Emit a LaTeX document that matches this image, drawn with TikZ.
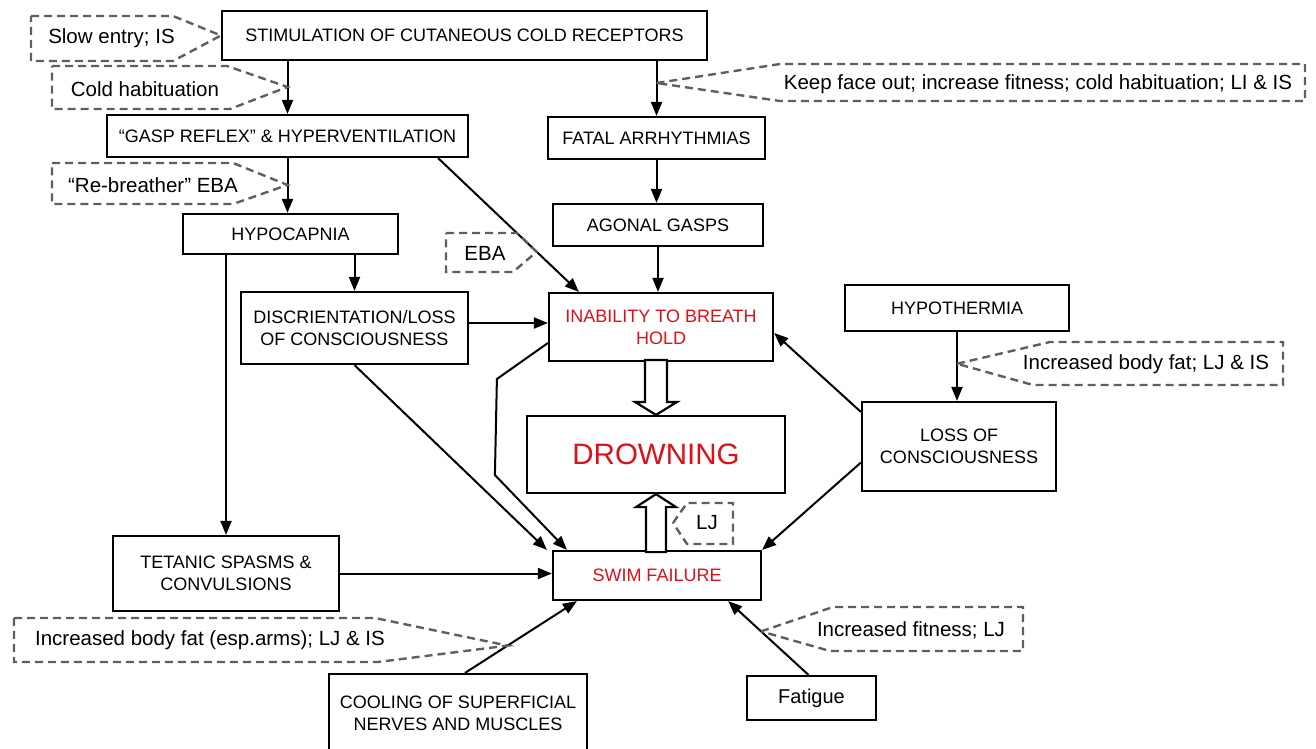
\documentclass[tikz,border=0pt]{standalone}
\usepackage{fontspec}
\setmainfont{Liberation Sans}
\usetikzlibrary{arrows.meta}
\definecolor{alertred}{RGB}{220,16,24}
\definecolor{notegray}{RGB}{95,95,95}
\tikzstyle{process} = [rectangle, draw=black, line width=2.2pt, align=center, inner sep=0pt, font=\fontsize{18}{22}\selectfont]
\tikzstyle{alert} = [process, text=alertred]
\tikzstyle{note} = [align=center, inner sep=0pt, font=\fontsize{20.5}{24}\selectfont]
\tikzstyle{hint} = [draw=notegray, line width=2.4pt, dash pattern=on 8pt off 5pt]
\tikzstyle{arrow} = [line width=2pt, -{Triangle[length=14pt,width=11pt]}]
\tikzstyle{hollow} = [draw=black, line width=2.2pt, fill=white]
\begin{document}
\begin{tikzpicture}[x=1pt, y=-1pt]
\useasboundingbox (0,0) rectangle (1316,748);
% boxes
\node (stim) [process, minimum width=485pt, minimum height=49pt] at (464.5,35.5) {STIMULATION OF CUTANEOUS COLD RECEPTORS};
\node (gasp) [process, minimum width=361pt, minimum height=42pt] at (287.5,136) {“GASP REFLEX” \& HYPERVENTILATION};
\node (fatal) [process, minimum width=217pt, minimum height=42pt] at (656.5,138) {FATAL ARRHYTHMIAS};
\node (hypo) [process, minimum width=215pt, minimum height=40pt] at (290.5,234) {HYPOCAPNIA};
\node (agonal) [process, minimum width=210pt, minimum height=42pt] at (658,225) {AGONAL GASPS};
\node (disc) [process, minimum width=227pt, minimum height=72pt] at (354.5,328) {DISCRIENTATION/LOSS\\OF CONSCIOUSNESS};
\node (inab) [alert, minimum width=224pt, minimum height=68pt] at (661,327) {INABILITY TO BREATH\\HOLD};
\node (hypoth) [process, minimum width=224pt, minimum height=46pt] at (957,308) {HYPOTHERMIA};
\node (loc) [process, minimum width=194pt, minimum height=89pt] at (959,446.5) {LOSS OF\\CONSCIOUSNESS};
\node (drown) [alert, minimum width=258pt, minimum height=77pt, font=\fontsize{29.5}{34}\selectfont] at (656,454.5) {DROWNING};
\node (tet) [process, minimum width=226pt, minimum height=75pt] at (226,573.5) {TETANIC SPASMS \&\\CONVULSIONS};
\node (swim) [alert, minimum width=208pt, minimum height=49pt] at (657,575.5) {SWIM FAILURE};
\node (cool) [process, minimum width=258pt, minimum height=78pt] at (458,713) {COOLING OF SUPERFICIAL\\NERVES AND MUSCLES};
\node (fatigue) [process, minimum width=129pt, minimum height=44pt, font=\fontsize{20}{24}\selectfont] at (811.5,698) {Fatigue};
% connectors
\draw [arrow] (gasp.north |- stim.south) -- coordinate[pos=0.49] (tcold) (gasp.north);
\draw [arrow] (fatal.north |- stim.south) -- coordinate[pos=0.4] (tkeep) (fatal.north);
\draw [arrow] (gasp.south) -- coordinate[pos=0.49] (treb) (gasp.south |- hypo.north);
\draw [arrow] (fatal.south) -- (fatal.south |- agonal.north);
\draw [arrow] ([xshift=-31pt]gasp.south east) -- coordinate[pos=0.7] (teba) ([xshift=31pt]inab.north west);
\draw [arrow] (agonal.south) -- (agonal.south |- inab.north);
\draw [arrow] (disc.north |- hypo.south) -- (disc.north);
\draw [arrow] (tet.north |- hypo.south) -- (tet.north);
\draw [arrow] ([yshift=5pt]disc.east) -- ([yshift=5pt]disc.east -| inab.west);
\draw [arrow] (disc.south) -- ([xshift=-5pt]swim.north west);
\draw [arrow] ([yshift=-16pt]inab.west) -- ++(-51,36) -- ++(-2,96) -- ([xshift=15pt]swim.north west);
\draw [arrow] ([yshift=-11pt]loc.north west) -- ([yshift=-6pt]inab.east);
\draw [arrow] ([yshift=-16pt]loc.west) -- (swim.north east);
\draw [arrow] (hypoth.south) -- coordinate[pos=0.46] (tfat) (hypoth.south |- loc.north);
\draw [arrow] (tet.east) -- (tet.east -| swim.west);
\draw [arrow] ([xshift=7pt]cool.north) -- coordinate[pos=0.38] (tarms) ([xshift=25pt]swim.south west);
\draw [arrow] ([xshift=-3pt]fatigue.north) -- coordinate[pos=0.59] (tfit) ([xshift=-34pt]swim.south east);
% hollow arrows into drowning
\draw [hollow] (drown.north) -- ++(-21,-13) -- ++(10,0) -- ++(0,-42) -- ++(22,0) -- ++(0,42) -- ++(10,0) -- cycle;
\draw [hollow] (drown.south) -- ++(-20,13) -- ++(10,0) -- ++(0,45) -- ++(20,0) -- ++(0,-45) -- ++(10,0) -- cycle;
% countermeasures
\node (hslow) [note] at (111.5,38) {Slow entry; IS};
\draw [hint] (31,16) -- (173,16) -- (stim.west) -- (173,61) -- (31,61) -- cycle;
\node (hcold) [note] at (145,89) {Cold habituation};
\draw [hint] (52,66) -- (227,66) -- (tcold) -- (230,109) -- (52,109) -- cycle;
\node (hreb) [note] at (153,185) {“Re-breather” EBA};
\draw [hint] (52,163) -- (233,163) -- (treb) -- (233,204) -- (52,204) -- cycle;
\node (heba) [note] at (485,253) {EBA};
\draw [hint] (446,233) -- (517,233) -- (teba) -- (513,272) -- (446,272) -- cycle;
\node (hkeep) [note] at (1038,84) {Keep face out; increase fitness; cold habituation; LI \& IS};
\draw [hint] (tkeep) -- (780,64) -- (1305,64) -- (1305,101) -- (780,101) -- cycle;
\node (hfat) [note] at (1146,364) {Increased body fat; LJ \& IS};
\draw [hint] (tfat) -- (1050,342) -- (1283,342) -- (1283,385) -- (1033,385) -- cycle;
\node (hlj) [note] at (707,523) {LJ};
\draw [hint] (673,523) -- (687,503) -- (733,503) -- (733,544) -- (687,544) -- cycle;
\node (harms) [note] at (210,640) {Increased body fat (esp.arms); LJ \& IS};
\draw [hint] (14,618) -- (375,618) -- (tarms) -- (378,662) -- (14,662) -- cycle;
\node (hfit) [note] at (911,630) {Increased fitness; LJ};
\draw [hint] (tfit) -- (833,607) -- (1023,607) -- (1023,651) -- (830,651) -- cycle;
\end{tikzpicture}
\end{document}
